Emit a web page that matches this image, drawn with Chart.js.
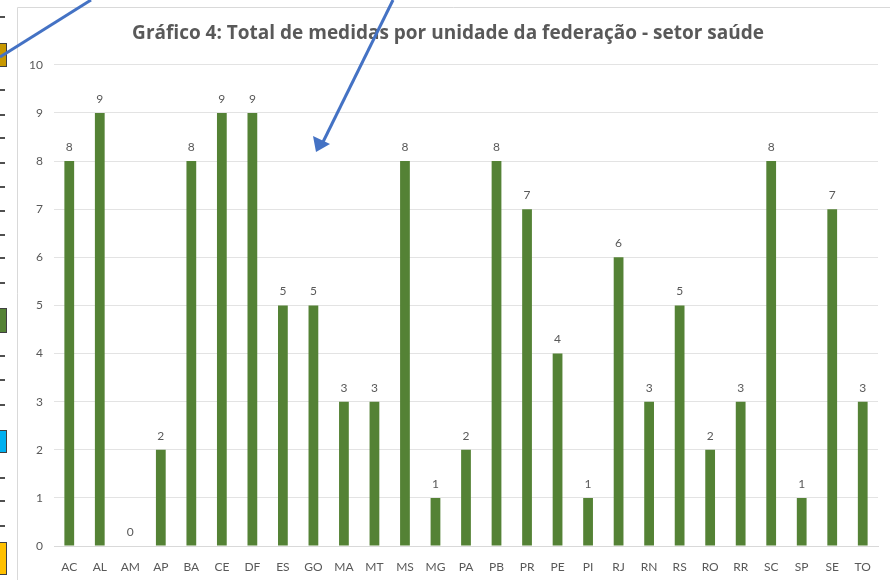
<!DOCTYPE html>
<html>
<head>
<meta charset="utf-8">
<script src="https://cdn.jsdelivr.net/npm/chart.js@4.4.1/dist/chart.umd.min.js"></script>
<style>
  html, body { margin: 0; padding: 0; background: #fff; }
  #wrap { position: relative; width: 890px; height: 580px; }
</style>
</head>
<body>
<div id="wrap"><canvas id="c"></canvas></div>
<script>
// Dados do gráfico
const ufs = ['AC','AL','AM','AP','BA','CE','DF','ES','GO','MA','MT','MS','MG','PA','PB','PR','PE','PI','RJ','RN','RS','RO','RR','SC','SP','SE','TO'];
const medidas = [8, 9, 0, 2, 8, 9, 9, 5, 5, 3, 3, 8, 1, 2, 8, 7, 4, 1, 6, 3, 5, 2, 3, 8, 1, 7, 3];
const yTicks = [0, 1, 2, 3, 4, 5, 6, 7, 8, 9, 10];
const titulo = 'Gráfico 4: Total de medidas por unidade da federação - setor saúde';

const cinza = '#595959';
const verde = '#548235';
const fonte = 'Lato, "Open Sans", sans-serif';

// rótulos de valor acima das barras
const rotulosPlugin = {
    id: 'rotulos',
    afterDatasetsDraw(chart) {
        const { ctx } = chart;
        const meta = chart.getDatasetMeta(0);
        ctx.save();
        ctx.fillStyle = cinza;
        ctx.font = '12px ' + fonte;
        ctx.textAlign = 'center';
        ctx.textBaseline = 'middle';
        meta.data.forEach((bar, i) => {
            ctx.fillText(String(medidas[i]), bar.x, bar.y - 14);
        });
        ctx.restore();
    }
};

// moldura do gráfico + recortes da captura (setas, marcadores à esquerda)
const molduraPlugin = {
    id: 'moldura',
    beforeDraw(chart) {
        const { ctx } = chart;
        ctx.save();
        ctx.strokeStyle = '#d9d9d9';
        ctx.lineWidth = 1;
        ctx.beginPath();
        ctx.moveTo(17.5, 580);
        ctx.lineTo(17.5, 7.5);
        ctx.lineTo(890, 7.5);
        ctx.stroke();
        ctx.restore();
    },
    afterDraw(chart) {
        const { ctx } = chart;
        ctx.save();
        // marcas à esquerda
        ctx.fillStyle = '#505050';
        [17, 90, 115, 138, 163, 187, 211, 235, 258, 283, 356, 380, 405, 478, 501, 526].forEach(y => {
            ctx.fillRect(0, y - 1, 5, 2);
        });
        const caixas = [
            [43, 67, '#c89800'],
            [308, 333, verde],
            [430, 453, '#00b0f0'],
            [542, 575, '#ffc000']
        ];
        caixas.forEach(([y0, y1, cor]) => {
            ctx.fillStyle = cor;
            ctx.fillRect(0, y0, 6, y1 - y0);
            ctx.strokeStyle = '#404040';
            ctx.lineWidth = 1;
            ctx.strokeRect(-1, y0 + 0.5, 7.5, y1 - y0 - 1);
        });
        // setas azuis
        ctx.strokeStyle = '#4472c4';
        ctx.fillStyle = '#4472c4';
        ctx.lineWidth = 3;
        ctx.beginPath();
        ctx.moveTo(91, 0);
        ctx.lineTo(0, 57);
        ctx.stroke();
        ctx.beginPath();
        ctx.moveTo(393, 0);
        ctx.lineTo(323, 142);
        ctx.stroke();
        ctx.beginPath();
        ctx.moveTo(316, 152);
        ctx.lineTo(313, 136);
        ctx.lineTo(330, 144);
        ctx.closePath();
        ctx.fill();
        ctx.restore();
    }
};

new Chart(document.getElementById('c'), {
    type: 'bar',
    data: {
        labels: ufs,
        datasets: [{
            data: medidas,
            backgroundColor: verde,
            borderWidth: 0,
            categoryPercentage: 1,
            barPercentage: 0.32
        }]
    },
    options: {
        responsive: true,
        maintainAspectRatio: false,
        animation: false,
        devicePixelRatio: 1,
        layout: { padding: { left: 18, right: 12, top: 0, bottom: 0 } },
        plugins: {
            legend: { display: false },
            tooltip: { enabled: false },
            title: {
                display: true,
                text: titulo,
                color: cinza,
                font: { family: '"Open Sans", sans-serif', size: 19, weight: 'bold', lineHeight: 1.2 },
                padding: { top: 22, bottom: 20 }
            }
        },
        scales: {
            x: {
                grid: { display: false },
                border: { color: '#d9d9d9' },
                ticks: { color: cinza, font: { family: fonte, size: 12 }, maxRotation: 0, autoSkip: false, padding: 6 },
                afterFit: s => { s.height = 34; }
            },
            y: {
                min: 0,
                max: 10,
                afterBuildTicks: s => { s.ticks = yTicks.map(v => ({ value: v })); },
                grid: { color: '#e3e3e3', drawTicks: false },
                border: { display: false },
                ticks: { color: cinza, font: { family: fonte, size: 12 }, padding: 11 },
                afterFit: s => { s.width = 36; }
            }
        }
    },
    plugins: [rotulosPlugin, molduraPlugin]
});
</script>
</body>
</html>
